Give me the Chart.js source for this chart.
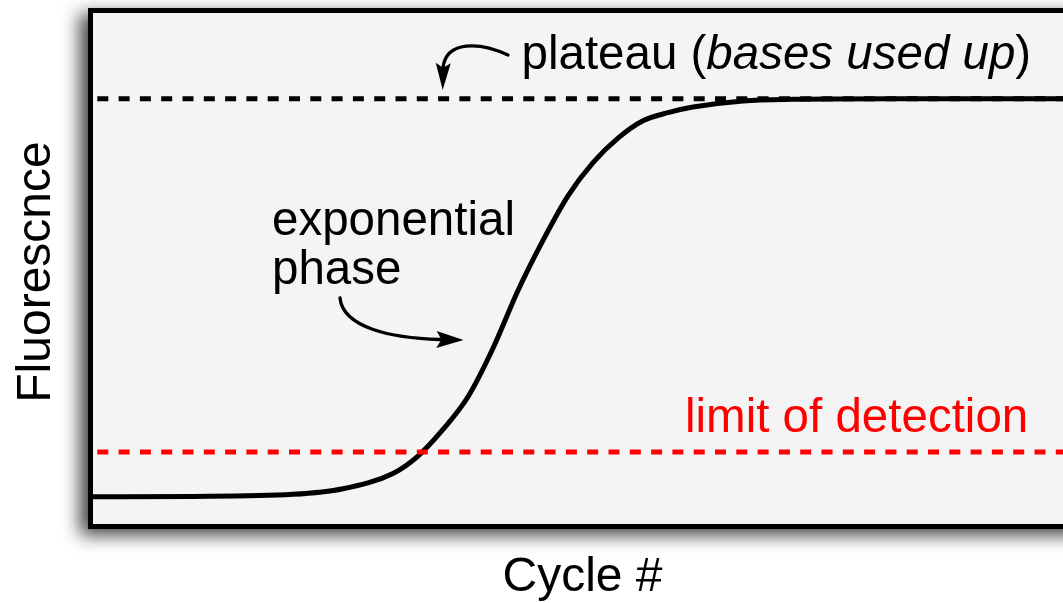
<!DOCTYPE html>
<html><head><meta charset="utf-8">
<style>
html,body{margin:0;padding:0;background:#fff;overflow:hidden;width:1063px;height:603px}
canvas{display:block}
</style>
<script src="https://cdn.jsdelivr.net/npm/chart.js@4.4.1/dist/chart.umd.min.js"></script>
</head><body>
<canvas id="c" width="1100" height="603" style="width:1100px;height:603px"></canvas>
<script>
// ---- data ----
const cycles       = [0, 4, 8, 10, 12, 13, 14, 15, 16, 17, 18, 19, 20, 21, 22, 23, 24, 26, 28, 32, 40];
const fluorescence = [5.35, 5.4, 5.8, 6.9, 9.9, 13.3, 18.5, 24.9, 34.4, 45.7, 55.5, 64.2, 70.7, 75.5, 78.9, 80.5, 81.6, 82.8, 83.1, 83.2, 83.2];
const plateauLevel   = 83.2;
const detectionLevel = 14.1;
const xRange = [0, 40];
const yRange = [0, 100];
const xTitle = 'Cycle #';
const yTitle = 'Fluorescnce';
const plateauText = ['plateau (', 'bases used up', ')'];
const expText = ['exponential', 'phase'];
const lodText = 'limit of detection';

const FONT = "'Liberation Sans', Arial, Helvetica, sans-serif";

function arrowHead(ctx, tx, ty, angle, len, half) {
  ctx.save();
  ctx.translate(tx, ty);
  ctx.rotate(angle);
  ctx.beginPath();
  ctx.moveTo(0, 0);
  ctx.lineTo(-len, -half);
  ctx.lineTo(-len * 0.82, 0);
  ctx.lineTo(-len, half);
  ctx.closePath();
  ctx.fill();
  ctx.restore();
}

const framePlugin = {
  id: 'frame',
  beforeDraw(chart) {
    const {ctx, chartArea: a, width, height} = chart;
    ctx.save();
    ctx.fillStyle = '#ffffff';
    ctx.fillRect(0, 0, width, height);
    ctx.shadowColor = 'rgba(0,0,0,0.75)';
    ctx.shadowBlur = 17;
    ctx.shadowOffsetX = -8;
    ctx.shadowOffsetY = 6;
    ctx.fillStyle = '#000';
    ctx.fillRect(a.left - 5, a.top - 5, a.width + 10, a.height + 10);
    ctx.restore();
    ctx.save();
    ctx.fillStyle = '#f4f4f4';
    ctx.fillRect(a.left, a.top, a.width, a.height);
    ctx.restore();
  },
  afterDraw(chart) {
    const {ctx, chartArea: a} = chart;
    // border on top
    ctx.save();
    ctx.strokeStyle = '#000';
    ctx.lineWidth = 5;
    ctx.strokeRect(a.left - 2.5, a.top - 2.5, a.width + 5, a.height + 5);
    ctx.restore();

    // axis titles
    ctx.save();
    ctx.fillStyle = '#000';
    ctx.font = '48px ' + FONT;
    ctx.textAlign = 'center';
    ctx.textBaseline = 'alphabetic';
    ctx.fillText(xTitle, 582.5, 591);
    ctx.translate(50, 272);
    ctx.rotate(-Math.PI / 2);
    ctx.fillText(yTitle, 0, 0);
    ctx.restore();

    // annotations
    ctx.save();
    ctx.fillStyle = '#000';
    ctx.textAlign = 'left';
    ctx.textBaseline = 'alphabetic';
    let x = 521.5;
    ctx.font = '47.5px ' + FONT;
    ctx.fillText(plateauText[0], x, 69);
    x += ctx.measureText(plateauText[0]).width;
    ctx.font = 'italic 47.5px ' + FONT;
    ctx.fillText(plateauText[1], x, 69);
    x += ctx.measureText(plateauText[1]).width;
    ctx.font = '47.5px ' + FONT;
    ctx.fillText(plateauText[2], x, 69);

    ctx.fillText(expText[0], 272, 235);
    ctx.fillText(expText[1], 272, 283.5);

    ctx.fillStyle = '#ff0000';
    ctx.fillText(lodText, 685, 431.5);
    ctx.restore();

    // arrows
    ctx.save();
    ctx.strokeStyle = '#000';
    ctx.fillStyle = '#000';
    ctx.lineWidth = 3.3;
    ctx.lineCap = 'round';
    ctx.beginPath();
    ctx.moveTo(508, 55);
    ctx.bezierCurveTo(480, 42, 446, 40, 443, 68);
    ctx.stroke();
    arrowHead(ctx, 442.7, 90, Math.PI / 2 + 0.02, 27, 7.5);

    ctx.beginPath();
    ctx.moveTo(340, 298);
    ctx.bezierCurveTo(343, 328, 392, 338, 440, 339.5);
    ctx.stroke();
    arrowHead(ctx, 463.5, 340, 0.02, 27, 8.5);
    ctx.restore();
  }
};

const pts = cycles.map((c, i) => ({x: c, y: fluorescence[i]}));

new Chart(document.getElementById('c'), {
  type: 'line',
  data: {
    datasets: [
      {
        label: 'limit of detection',
        data: xRange.map(v => ({x: v, y: detectionLevel})),
        borderColor: '#ff0000', borderWidth: 5,
        borderDash: [11, 10.3], borderDashOffset: 17,
        pointRadius: 0, fill: false, tension: 0
      },
      {
        label: 'plateau',
        data: xRange.map(v => ({x: v, y: plateauLevel})),
        borderColor: '#000', borderWidth: 5,
        borderDash: [11, 10.3], borderDashOffset: 17,
        pointRadius: 0, fill: false, tension: 0
      },
      {
        label: 'fluorescence',
        data: pts,
        borderColor: '#000', borderWidth: 5,
        cubicInterpolationMode: 'monotone',
        pointRadius: 0, fill: false
      }
    ]
  },
  options: {
    responsive: false,
    animation: false,
    devicePixelRatio: 1,
    layout: {padding: {left: 93, top: 13, right: 7, bottom: 79}},
    plugins: {legend: {display: false}, tooltip: {enabled: false}},
    scales: {
      x: {type: 'linear', min: xRange[0], max: xRange[1], display: false},
      y: {type: 'linear', min: yRange[0], max: yRange[1], display: false}
    }
  },
  plugins: [framePlugin]
});
</script>
</body></html>
